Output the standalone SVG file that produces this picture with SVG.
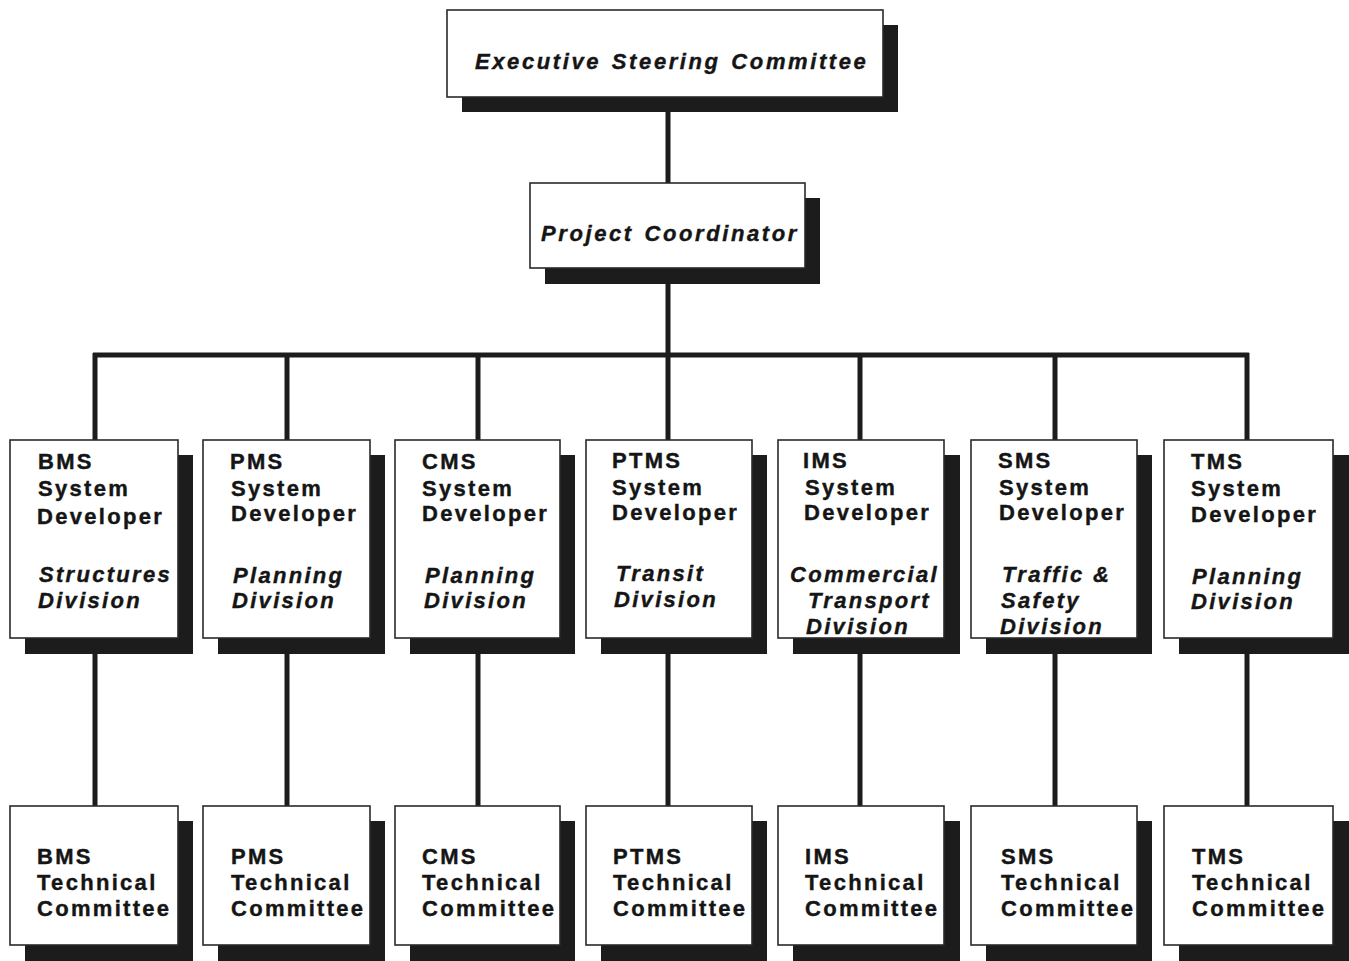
<svg xmlns="http://www.w3.org/2000/svg" width="1349" height="961" viewBox="0 0 1349 961">
<style>
.bg{fill:#ffffff}
.sh{fill:#1c1c1c}
.bx{fill:#ffffff;stroke:#2a2a2a;stroke-width:1.6}
.ln{stroke:#1c1c1c;stroke-width:5;fill:none}
.t{font-family:"Liberation Sans",Arial,sans-serif;font-weight:bold;font-size:22px;letter-spacing:2.3px;fill:#151515;stroke:#151515;stroke-width:0.4}
.i{font-style:italic}
.big{word-spacing:2px;letter-spacing:2.6px}
</style>
<rect class="bg" x="0" y="0" width="1349" height="961"/>
<g id="connectors">
<line class="ln" x1="668" y1="105" x2="668" y2="190"/>
<line class="ln" x1="668" y1="280" x2="668" y2="357"/>
<line class="ln" x1="93" y1="355" x2="1249" y2="355"/>
<line class="ln" x1="95" y1="353" x2="95" y2="445"/>
<line class="ln" x1="287" y1="353" x2="287" y2="445"/>
<line class="ln" x1="478" y1="353" x2="478" y2="445"/>
<line class="ln" x1="668" y1="353" x2="668" y2="445"/>
<line class="ln" x1="860" y1="353" x2="860" y2="445"/>
<line class="ln" x1="1055" y1="353" x2="1055" y2="445"/>
<line class="ln" x1="1247" y1="353" x2="1247" y2="445"/>
<line class="ln" x1="95" y1="640" x2="95" y2="810"/>
<line class="ln" x1="287" y1="640" x2="287" y2="810"/>
<line class="ln" x1="478" y1="640" x2="478" y2="810"/>
<line class="ln" x1="668" y1="640" x2="668" y2="810"/>
<line class="ln" x1="860" y1="640" x2="860" y2="810"/>
<line class="ln" x1="1055" y1="640" x2="1055" y2="810"/>
<line class="ln" x1="1247" y1="640" x2="1247" y2="810"/>
</g>
<g id="executive">
<rect class="sh" x="462" y="25" width="436" height="87"/>
<rect class="bx" x="447" y="10" width="436" height="87"/>
<text class="t i big" x="475" y="69">Executive Steering Committee</text>
</g>
<g id="coordinator">
<rect class="sh" x="545" y="198" width="275" height="86"/>
<rect class="bx" x="530" y="183" width="275" height="85"/>
<text class="t i big" x="541" y="241">Project Coordinator</text>
</g>
<g id="bms-dev">
<rect class="sh" x="25" y="455" width="168" height="199"/>
<rect class="bx" x="10" y="440" width="168" height="198"/>
<text class="t" x="38" y="469">BMS</text>
<text class="t" x="38" y="496">System</text>
<text class="t" x="37" y="524">Developer</text>
<text class="t i" x="39" y="582">Structures</text>
<text class="t i" x="38" y="608">Division</text>
</g>
<g id="pms-dev">
<rect class="sh" x="218" y="455" width="167" height="199"/>
<rect class="bx" x="203" y="440" width="167" height="198"/>
<text class="t" x="230" y="469">PMS</text>
<text class="t" x="231" y="496">System</text>
<text class="t" x="231" y="521">Developer</text>
<text class="t i" x="233" y="583">Planning</text>
<text class="t i" x="232" y="608">Division</text>
</g>
<g id="cms-dev">
<rect class="sh" x="410" y="455" width="165" height="199"/>
<rect class="bx" x="395" y="440" width="165" height="198"/>
<text class="t" x="422" y="469">CMS</text>
<text class="t" x="422" y="496">System</text>
<text class="t" x="422" y="521">Developer</text>
<text class="t i" x="425" y="583">Planning</text>
<text class="t i" x="424" y="608">Division</text>
</g>
<g id="ptms-dev">
<rect class="sh" x="601" y="455" width="166" height="199"/>
<rect class="bx" x="586" y="440" width="166" height="198"/>
<text class="t" x="612" y="468">PTMS</text>
<text class="t" x="612" y="495">System</text>
<text class="t" x="612" y="520">Developer</text>
<text class="t i" x="616" y="581">Transit</text>
<text class="t i" x="614" y="607">Division</text>
</g>
<g id="ims-dev">
<rect class="sh" x="793" y="455" width="167" height="199"/>
<rect class="bx" x="778" y="440" width="166" height="198"/>
<text class="t" x="803" y="468">IMS</text>
<text class="t" x="805" y="495">System</text>
<text class="t" x="804" y="520">Developer</text>
<text class="t i" x="790" y="582">Commercial</text>
<text class="t i" x="808" y="608">Transport</text>
<text class="t i" x="806" y="634">Division</text>
</g>
<g id="sms-dev">
<rect class="sh" x="986" y="455" width="166" height="199"/>
<rect class="bx" x="971" y="440" width="166" height="198"/>
<text class="t" x="998" y="468">SMS</text>
<text class="t" x="999" y="495">System</text>
<text class="t" x="999" y="520">Developer</text>
<text class="t i" x="1002" y="582">Traffic &amp;</text>
<text class="t i" x="1001" y="608">Safety</text>
<text class="t i" x="1000" y="634">Division</text>
</g>
<g id="tms-dev">
<rect class="sh" x="1179" y="455" width="170" height="199"/>
<rect class="bx" x="1164" y="440" width="169" height="198"/>
<text class="t" x="1191" y="469">TMS</text>
<text class="t" x="1191" y="496">System</text>
<text class="t" x="1191" y="522">Developer</text>
<text class="t i" x="1192" y="584">Planning</text>
<text class="t i" x="1191" y="609">Division</text>
</g>
<g id="bms-tc">
<rect class="sh" x="25" y="821" width="168" height="140"/>
<rect class="bx" x="10" y="806" width="168" height="139"/>
<text class="t" x="37" y="864">BMS</text>
<text class="t" x="37" y="890">Technical</text>
<text class="t" x="37" y="916">Committee</text>
</g>
<g id="pms-tc">
<rect class="sh" x="218" y="821" width="167" height="140"/>
<rect class="bx" x="203" y="806" width="167" height="139"/>
<text class="t" x="231" y="864">PMS</text>
<text class="t" x="231" y="890">Technical</text>
<text class="t" x="231" y="916">Committee</text>
</g>
<g id="cms-tc">
<rect class="sh" x="410" y="821" width="165" height="140"/>
<rect class="bx" x="395" y="806" width="165" height="139"/>
<text class="t" x="422" y="864">CMS</text>
<text class="t" x="422" y="890">Technical</text>
<text class="t" x="422" y="916">Committee</text>
</g>
<g id="ptms-tc">
<rect class="sh" x="601" y="821" width="166" height="140"/>
<rect class="bx" x="586" y="806" width="166" height="139"/>
<text class="t" x="613" y="864">PTMS</text>
<text class="t" x="613" y="890">Technical</text>
<text class="t" x="613" y="916">Committee</text>
</g>
<g id="ims-tc">
<rect class="sh" x="793" y="821" width="167" height="140"/>
<rect class="bx" x="778" y="806" width="166" height="139"/>
<text class="t" x="805" y="864">IMS</text>
<text class="t" x="805" y="890">Technical</text>
<text class="t" x="805" y="916">Committee</text>
</g>
<g id="sms-tc">
<rect class="sh" x="986" y="821" width="166" height="140"/>
<rect class="bx" x="971" y="806" width="166" height="139"/>
<text class="t" x="1001" y="864">SMS</text>
<text class="t" x="1001" y="890">Technical</text>
<text class="t" x="1001" y="916">Committee</text>
</g>
<g id="tms-tc">
<rect class="sh" x="1179" y="821" width="170" height="140"/>
<rect class="bx" x="1164" y="806" width="169" height="139"/>
<text class="t" x="1192" y="864">TMS</text>
<text class="t" x="1192" y="890">Technical</text>
<text class="t" x="1192" y="916">Committee</text>
</g>
</svg>
